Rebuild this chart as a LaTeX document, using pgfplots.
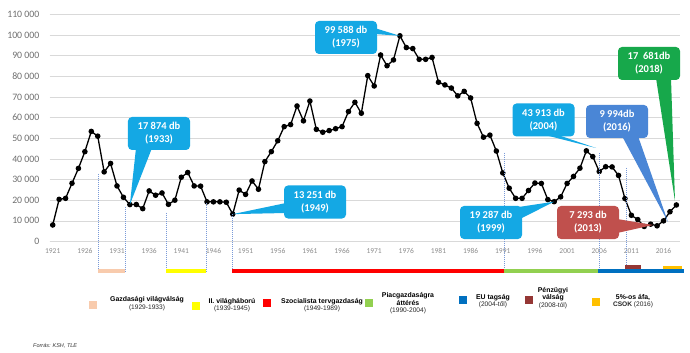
\documentclass[border=0pt]{standalone}
\usepackage{pgfplots}
\pgfplotsset{compat=1.18}
\usepackage{fontspec}
\setmainfont{Carlito}
\newfontfamily\arialf{Liberation Sans}
\definecolor{gridc}{HTML}{D9D9D9}
\definecolor{tickc}{HTML}{6F6F6F}
\definecolor{cyanbox}{HTML}{14A8E4}
\definecolor{bluebox}{HTML}{4A86D6}
\definecolor{greenbox}{HTML}{17A84B}
\definecolor{redbox}{HTML}{C0504D}
\definecolor{peach}{HTML}{F8CBAD}
\definecolor{yel}{HTML}{FFFF00}
\definecolor{redbar}{HTML}{FF0000}
\definecolor{greenbar}{HTML}{92D050}
\definecolor{bluebar}{HTML}{0070C0}
\definecolor{brownbar}{HTML}{953735}
\definecolor{goldbar}{HTML}{FFC000}
\definecolor{dotc}{HTML}{7A9AD8}
\pgfplotstableread{
year n
1921 8000
1922 20400
1923 20900
1924 28200
1925 35400
1926 43500
1927 53300
1928 51000
1929 33700
1930 37800
1931 26900
1932 21400
1933 17874
1934 17900
1935 15900
1936 24500
1937 22400
1938 23500
1939 18000
1940 20000
1941 31100
1942 33400
1943 26900
1944 26800
1945 19200
1946 19200
1947 19200
1948 19000
1949 13251
1950 24900
1951 22800
1952 29300
1953 25300
1954 38700
1955 43500
1956 48800
1957 55600
1958 56600
1959 65600
1960 58400
1961 68000
1962 54300
1963 52900
1964 53700
1965 54600
1966 55600
1967 62900
1968 67400
1969 62100
1970 80300
1971 75300
1972 90300
1973 85100
1974 87900
1975 99588
1976 93900
1977 93400
1978 88200
1979 88200
1980 89100
1981 77100
1982 75800
1983 74300
1984 70500
1985 72700
1986 69500
1987 57200
1988 50500
1989 51500
1990 43800
1991 33200
1992 25800
1993 20900
1994 20900
1995 24700
1996 28300
1997 28100
1998 20300
1999 19287
2000 21600
2001 28100
2002 31500
2003 35500
2004 43913
2005 41100
2006 33900
2007 36200
2008 36100
2009 32000
2010 20800
2011 12700
2012 10600
2013 7293
2014 8400
2015 7600
2016 9994
2017 14400
2018 17681
}\lakas
\begin{document}
\begin{tikzpicture}
\useasboundingbox (0,0) rectangle (690bp,353bp);
\fill[white] (0,0) rectangle (690bp,353bp);
\begin{axis}[
  at={(49.5bp,111.5bp)}, anchor=south west,
  scale only axis, width=630.1bp, height=227.2bp,
  xmin=1920.5, xmax=2018.5, ymin=0, ymax=110000,
  clip=false,
  axis x line*=bottom, axis y line*=left,
  y axis line style={draw=none},
  x axis line style={draw=gridc, line width=0.8bp},
  major tick length=0pt,
  ymajorgrids, grid style={draw=gridc, line width=0.6bp},
  scaled y ticks=false,
  ytick={0,10000,...,110000},
  yticklabels={0,10 000,20 000,30 000,40 000,50 000,60 000,70 000,80 000,90 000,100 000,110 000},
  yticklabel style={font=\fontsize{9.8bp}{10bp}\selectfont, text=tickc, anchor=east, inner sep=0pt, xshift=-10bp},
  xtick={1921,1926,...,2016},
  xticklabels={1921,1926,1931,1936,1941,1946,1951,1956,1961,1966,1971,1976,1981,1986,1991,1996,2001,2006,2011,2016},
  xticklabel style={font=\fontsize{7.5bp}{8bp}\selectfont, text=tickc!80, anchor=north, inner sep=0pt, yshift=-7bp},
]
\addplot[black, line width=1.3bp, mark=*, mark size=2.1bp, mark options={fill=black}] table[x=year,y=n]{\lakas};
\coordinate (t33) at (axis cs:1933,17874);
\coordinate (t49) at (axis cs:1949,13251);
\coordinate (t75) at (axis cs:1975,99588);
\coordinate (t99) at (axis cs:1999,19287);
\end{axis}
\begin{scope}[x=1bp,y=-1bp,shift={(0,-353)}]
  % dotted guide lines
  \foreach \xx/\yy in {98/174,125/207,166/213,206/203,232/214,504/153,599/153,626/168}
    \draw[dotc, dash pattern=on 1bp off 1bp, line width=0.5bp] (\xx,\yy) -- (\xx,272);
  % timeline bars
  \fill[peach] (98,269.5) rectangle (125,273.5);
  \fill[yel] (166,269.5) rectangle (206,273.5);
  \fill[redbar] (232,269.5) rectangle (504,273.5);
  \fill[greenbar] (504,269.5) rectangle (598,273.5);
  \fill[bluebar] (598,269.5) rectangle (684,273.5);
  \fill[brownbar] (625,265) rectangle (641,269.5);
  \fill[goldbar] (663,266) rectangle (682,269.5);
  % callouts
  \tikzset{box/.style={rounded corners=4bp, minimum width=62bp, minimum height=33bp, text=white,
     font=\bfseries\fontsize{10.5bp}{13bp}\selectfont, align=center, inner sep=0pt}}
  \fill[cyanbox] (136,148) -- (152,148) -- (t33) -- cycle;
  \node[box, fill=cyanbox] at (159,133.5) {17 874 db\\(1933)};
  \fill[cyanbox] (286,203) -- (286,213) -- (t49) -- cycle;
  \node[box, fill=cyanbox] at (315,202) {13 251 db\\(1949)};
  \fill[cyanbox] (368,26) -- (375,34) -- (t75) -- cycle;
  \node[box, fill=cyanbox] at (346,37.5) {99 588 db\\(1975)};
  \fill[cyanbox] (512,208) -- (520,219) -- (t99) -- cycle;
  \node[box, fill=cyanbox] at (491,222.5) {19 287 db\\(1999)};
  \fill[cyanbox] (545,135) -- (558,135) -- (596,148) -- cycle;
  \node[box, fill=cyanbox] at (543.5,120) {43 913 db\\(2004)};
  \fill[bluebox] (622,136) -- (638,136) -- (668,222) -- cycle;
  \node[box, fill=bluebox] at (617,121.5) {9 994db\\(2016)};
  \fill[greenbox] (656,78) -- (671,78) -- (675,201) -- cycle;
  \node[box, fill=greenbox] at (649,63.5) {17\ \ 681db\\(2018)};
  \fill[redbox] (617,219) -- (617,233) -- (653,225) -- cycle;
  \node[box, fill=redbox] at (588,222.5) {7 293 db\\(2013)};
  % legend
  \tikzset{lb/.style={font=\arialf\bfseries\fontsize{6.9bp}{8bp}\selectfont, inner sep=0pt},
           ls/.style={font=\arialf\fontsize{6.6bp}{8bp}\selectfont, inner sep=0pt, text=black!85}}
  \fill[peach] (89,301) rectangle (97,309);
  \node[lb] at (147,299.5) {Gazdasági világválság};
  \node[ls] at (147,307.5) {(1929-1933)};
  \fill[yel] (192,302) rectangle (200,310);
  \node[lb] at (232,301.5) {II. világháború};
  \node[ls] at (232,309) {(1939-1945)};
  \fill[redbar] (263,299) rectangle (271,307);
  \node[lb] at (322,301.5) {Szocialista tervgazdaság};
  \node[ls] at (322,309) {(1949-1989)};
  \fill[greenbar] (365,299) rectangle (373,307);
  \node[lb] at (408,296) {Piacgazdaságra};
  \node[lb] at (408,303.5) {áttérés};
  \node[ls] at (408,311) {(1990-2004)};
  \fill[bluebar] (459,296) rectangle (467,304);
  \node[lb] at (493,297.5) {EU tagság};
  \node[ls] at (493,305) {(2004-től)};
  \fill[brownbar] (525,296) rectangle (533,304);
  \node[lb] at (553,290.5) {Pénzügyi};
  \node[lb] at (553,298) {válság};
  \node[ls] at (553,305.5) {(2008-tól)};
  \fill[goldbar] (592,298) rectangle (600,306);
  \node[lb] at (633,297.5) {5\%-os áfa,};
  \node[ls] at (633,305) {\textbf{CSOK} (2016)};
  \node[font=\arialf\itshape\fontsize{5.5bp}{6bp}\selectfont, anchor=west, inner sep=0pt, text=black!80] at (33,346) {Forrás: KSH, TLE};
\end{scope}
\end{tikzpicture}
\end{document}
